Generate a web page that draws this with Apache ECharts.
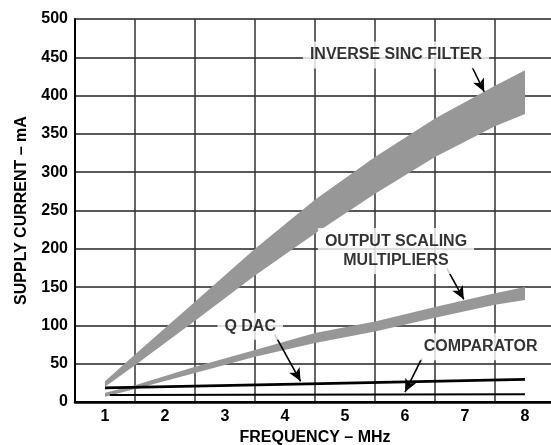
<!DOCTYPE html>
<html>
<head>
<meta charset="utf-8">
<title>Supply current vs frequency</title>
<script src="https://cdn.jsdelivr.net/npm/echarts@6/dist/echarts.min.js"></script>
<style>
  html, body { margin: 0; padding: 0; background: #fff; }
  #chart { width: 551px; height: 445px; }
</style>
</head>
<body>
<div id="chart"></div>
<script>
// tick labels
var freqLabels = ['1', '2', '3', '4', '5', '6', '7', '8']

// band series, x in MHz
var bandFreq = [1, 1.5, 2.5, 3.5, 4.5, 5.5, 6.5, 7.5, 8]
var sincLow = [20, 48, 106, 165, 220, 272, 320, 360, 376]
var sincHigh = [27, 62, 131, 200, 264, 320, 370, 413, 433]
var osmLow = [7, 17, 38, 59, 77, 92, 110, 127, 133]
var osmHigh = [12, 22, 46, 68, 90, 105, 124, 142, 150]

// single lines
var qdacFreq = [1, 4.6, 8]
var qdacVals = [18.5, 24, 29.5]
var compFreq = [1.08, 8]
var compVals = [9.3, 10.2]

var FONT = 'Liberation Sans, Arial, Helvetica, sans-serif'
var BAND = '#979797'

function pairs (xs, ys) {
  return xs.map(function (x, i) { return [x, ys[i]] })
}
function arrow (from, to) {
  return [{ coord: from }, { coord: to }]
}

// filled band between low and high edge, drawn as one polygon
function bandSeries (name, xs, lo, hi) {
  return {
    name: name,
    type: 'custom',
    xAxisIndex: 0,
    yAxisIndex: 0,
    data: xs.map(function (x, i) { return [x, lo[i], hi[i]] }),
    encode: { x: 0, y: [1, 2] },
    renderItem: function (params, api) {
      if (params.dataIndex !== 0) return null
      var pts = []
      var i
      for (i = 0; i < xs.length; i++) pts.push(api.coord([xs[i], hi[i]]))
      for (i = xs.length - 1; i >= 0; i--) pts.push(api.coord([xs[i], lo[i]]))
      return { type: 'polygon', shape: { points: pts }, style: { fill: BAND } }
    }
  }
}

var chart = echarts.init(document.getElementById('chart'))

var option = {
  animation: false,
  backgroundColor: '#fff',
  textStyle: { fontFamily: FONT },
  grid: { left: 75, right: -4, top: 19, bottom: 43, outerBoundsMode: 'none', containLabel: false },
  xAxis: [{
    // data axis, used as top frame line
    type: 'value',
    position: 'top',
    min: 0.5,
    max: 8.5,
    axisLine: { show: true, lineStyle: { color: '#000', width: 2 } },
    axisTick: { show: false },
    axisLabel: { show: false },
    splitLine: { show: false }
  }, {
    // label axis, grid lines between the labels
    type: 'category',
    position: 'bottom',
    data: freqLabels,
    boundaryGap: true,
    name: 'FREQUENCY – MHz',
    nameLocation: 'middle',
    nameGap: 26,
    nameTextStyle: { color: '#000', fontSize: 16, fontWeight: 'bold', fontFamily: FONT },
    axisLine: { show: true, lineStyle: { color: '#000', width: 2.5 } },
    axisTick: { show: false },
    axisLabel: { color: '#000', fontSize: 16, fontWeight: 'bold', fontFamily: FONT, margin: 7 },
    splitLine: { show: true, lineStyle: { color: '#333', width: 1.5 } }
  }],
  yAxis: {
    type: 'value',
    min: 0,
    max: 500,
    interval: 50,
    name: 'SUPPLY CURRENT – mA',
    nameLocation: 'middle',
    nameGap: 45,
    nameTextStyle: { color: '#000', fontSize: 16, fontWeight: 'bold', fontFamily: FONT },
    axisLine: { show: true, lineStyle: { color: '#000', width: 2 } },
    axisTick: { show: false },
    axisLabel: { color: '#000', fontSize: 16, fontWeight: 'bold', fontFamily: FONT, margin: 7 },
    splitLine: { show: true, lineStyle: { color: '#222', width: 1.5 } }
  },
  series: [
    bandSeries('INVERSE SINC FILTER', bandFreq, sincLow, sincHigh),
    bandSeries('OUTPUT SCALING MULTIPLIERS', bandFreq, osmLow, osmHigh),
    {
      name: 'Q DAC',
      type: 'line',
      symbol: 'none',
      lineStyle: { color: '#000', width: 2.6 },
      data: pairs(qdacFreq, qdacVals)
    }, {
      name: 'COMPARATOR',
      type: 'line',
      symbol: 'none',
      lineStyle: { color: '#000', width: 2 },
      data: pairs(compFreq, compVals),
      markLine: {
        silent: true,
        symbol: ['none', 'arrow'],
        symbolSize: [9, 13],
        label: { show: false },
        lineStyle: { color: '#000', width: 1.6, type: 'solid' },
        data: [
          arrow([7.12, 437], [7.32, 405]),
          arrow([6.7, 174], [6.98, 134]),
          arrow([3.83, 88], [4.26, 27]),
          arrow([6.28, 57], [6.0, 13])
        ]
      }
    }, {
      // curve names with white boxes cutting the grid
      name: 'notes',
      type: 'scatter',
      symbolSize: 0,
      z: 5,
      label: {
        show: true,
        position: 'inside',
        formatter: '{b}',
        color: '#000',
        fontSize: 16,
        fontWeight: 'bold',
        fontFamily: FONT,
        lineHeight: 19,
        align: 'center',
        textBorderWidth: 0,
        textShadowBlur: 0,
        borderWidth: 0,
        shadowBlur: 0,
        backgroundColor: '#fff',
        padding: [4, 7]
      },
      emphasis: { disabled: true },
      data: [
        { name: 'INVERSE SINC FILTER', value: [5.85, 453] },
        { name: 'OUTPUT SCALING\nMULTIPLIERS', value: [5.85, 197] },
        { name: 'Q DAC', value: [3.42, 99] },
        { name: 'COMPARATOR', value: [7.26, 72] }
      ]
    }
  ]
}

chart.setOption(option)
</script>
</body>
</html>
